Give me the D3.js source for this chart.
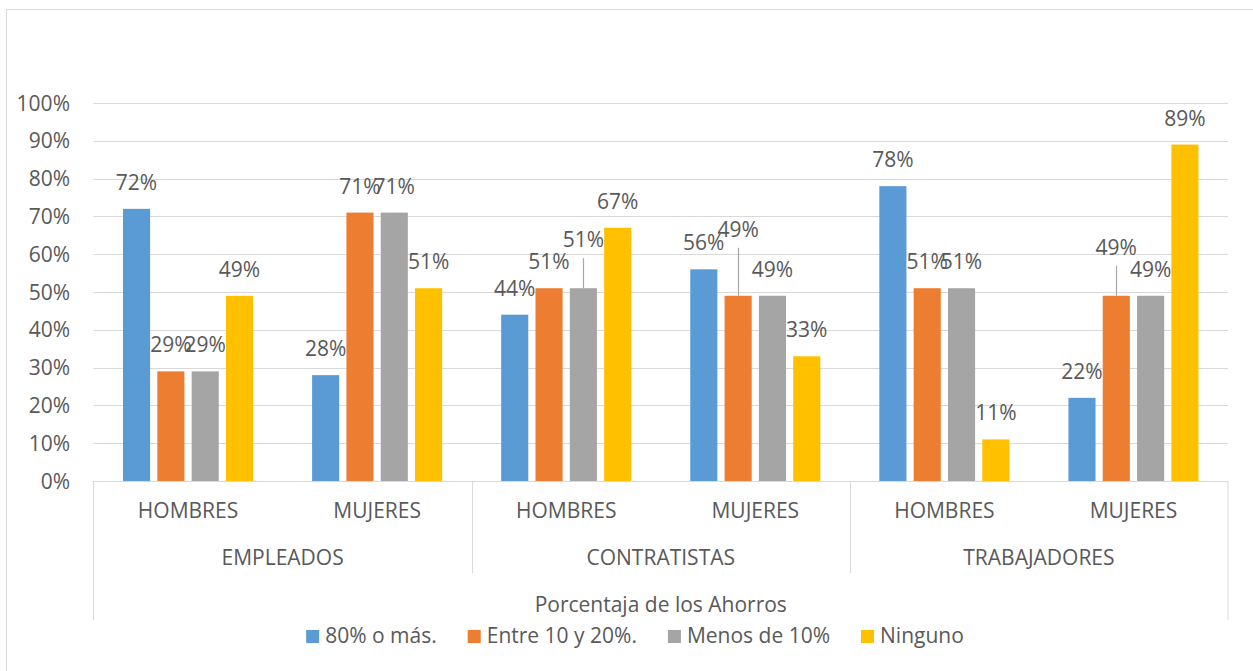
<!DOCTYPE html>
<html><head><meta charset="utf-8">
<script src="https://cdn.jsdelivr.net/npm/d3@7"></script>
<style>
body{margin:0;background:#fff}
text{font-family:"Open Sans",sans-serif;fill:#595959}
</style>
</head><body>
<svg id="c" width="1253" height="671"></svg>
<script>
// ---- data ----
const groups = ["EMPLEADOS", "CONTRATISTAS", "TRABAJADORES"];
const subgroups = ["HOMBRES", "MUJERES"];
const series = ["80% o más.", "Entre 10 y 20%.", "Menos de 10%", "Ninguno"];
const colors = ["#5B9BD5", "#ED7D31", "#A5A5A5", "#FFC000"];
const seriesA = [72, 28, 44, 56, 78, 22]; // 80% o más.
const seriesB = [29, 71, 51, 49, 51, 49]; // Entre 10 y 20%.
const seriesC = [29, 71, 51, 49, 51, 49]; // Menos de 10%
const seriesD = [49, 51, 67, 33, 11, 89]; // Ninguno
const yTicks = [0, 10, 20, 30, 40, 50, 60, 70, 80, 90, 100];
const axisTitle = "Porcentaja de los Ahorros";
// labels Excel moved up with a leader line: [category index, series index, lift]
const leaderLabels = [[2, 2, 22], [3, 1, 40], [5, 1, 22]];

const values = [seriesA, seriesB, seriesC, seriesD];
const cats = [];
groups.forEach(g => subgroups.forEach(s => cats.push({g, s})));

const FS = 21;
const svg = d3.select("#c");
const L = 93.5, R = 1228, T = 103, B = 481;
const grid = "#d9d9d9";

// outer chart border
svg.append("rect").attr("x", 6.5).attr("y", 9.5).attr("width", 1300).attr("height", 700)
  .attr("fill", "none").attr("stroke", grid);

const y = d3.scaleLinear().domain([0, 100]).range([B, T]);
const x0 = d3.scaleBand().domain(d3.range(cats.length)).range([L, R]);
const x1 = d3.scaleBand().domain(d3.range(series.length))
  .range([29.5, x0.bandwidth() - 29.5]).paddingInner(0.21);

// gridlines
svg.append("g").selectAll("line").data(yTicks.filter(t => t > 0)).join("line")
  .attr("x1", L).attr("x2", R).attr("y1", d => Math.round(y(d)) + 0.5).attr("y2", d => Math.round(y(d)) + 0.5)
  .attr("stroke", grid).attr("stroke-width", 1);

// y tick labels
svg.append("g").selectAll("text").data(yTicks).join("text")
  .attr("x", 70).attr("y", d => y(d)).attr("dy", "0.36em")
  .attr("text-anchor", "end").attr("font-size", FS)
  .text(d => d + "%");

// bars
const bars = [];
values.forEach((arr, si) => arr.forEach((v, ci) => bars.push({ci, si, v})));
svg.append("g").selectAll("rect").data(bars).join("rect")
  .attr("x", d => x0(d.ci) + x1(d.si)).attr("width", x1.bandwidth())
  .attr("y", d => y(d.v)).attr("height", d => y(0) - y(d.v))
  .attr("fill", d => colors[d.si]);

// data labels
const lift = (d) => { const f = leaderLabels.find(l => l[0] === d.ci && l[1] === d.si); return f ? f[2] : 0; };
const cx = d => x0(d.ci) + x1(d.si) + x1.bandwidth() / 2;
svg.append("g").selectAll("line").data(bars.filter(d => lift(d) > 0)).join("line")
  .attr("x1", d => Math.round(cx(d)) + 0.5).attr("x2", d => Math.round(cx(d)) + 0.5)
  .attr("y1", d => y(d.v) - 19 - lift(d) + 11).attr("y2", d => y(d.v))
  .attr("stroke", "#a6a6a6").attr("stroke-width", 1.2);
svg.append("g").selectAll("text").data(bars).join("text")
  .attr("x", cx).attr("y", d => y(d.v) - 19 - lift(d))
  .attr("text-anchor", "middle").attr("font-size", FS)
  .text(d => d.v + "%");

// category axis box
const ax = svg.append("g").attr("stroke", grid).attr("stroke-width", 1);
ax.append("line").attr("x1", L).attr("x2", R).attr("y1", B + 0.5).attr("y2", B + 0.5);
ax.append("line").attr("x1", L).attr("x2", L).attr("y1", B).attr("y2", 620);
ax.append("line").attr("x1", R).attr("x2", R).attr("y1", B).attr("y2", 620);
groups.forEach((g, gi) => {
  if (gi > 0) {
    const xx = Math.round(x0(gi * subgroups.length)) + 0.5;
    ax.append("line").attr("x1", xx).attr("x2", xx).attr("y1", B).attr("y2", 573);
  }
});

// sub-category labels
svg.append("g").selectAll("text").data(cats).join("text")
  .attr("x", (d, i) => x0(i) + x0.bandwidth() / 2).attr("y", 518)
  .attr("text-anchor", "middle").attr("font-size", FS).text(d => d.s);
// group labels
svg.append("g").selectAll("text").data(groups).join("text")
  .attr("x", (d, i) => x0(i * 2) + x0.bandwidth()).attr("y", 565)
  .attr("text-anchor", "middle").attr("font-size", FS).text(d => d);
// axis title
svg.append("text").attr("x", (L + R) / 2).attr("y", 612)
  .attr("text-anchor", "middle").attr("font-size", FS).text(axisTitle);

// legend
const lg = svg.append("g");
let cur = 0;
series.forEach((s, i) => {
  const it = lg.append("g").attr("transform", `translate(${cur},0)`);
  it.append("rect").attr("x", 0).attr("y", -13).attr("width", 13).attr("height", 13).attr("fill", colors[i]);
  const t = it.append("text").attr("x", 19).attr("y", 0).attr("font-size", FS).text(s);
  cur += 19 + t.node().getComputedTextLength() + 31;
});
const total = cur - 31;
lg.attr("transform", `translate(${635 - total / 2},643)`);
</script>
</body></html>
